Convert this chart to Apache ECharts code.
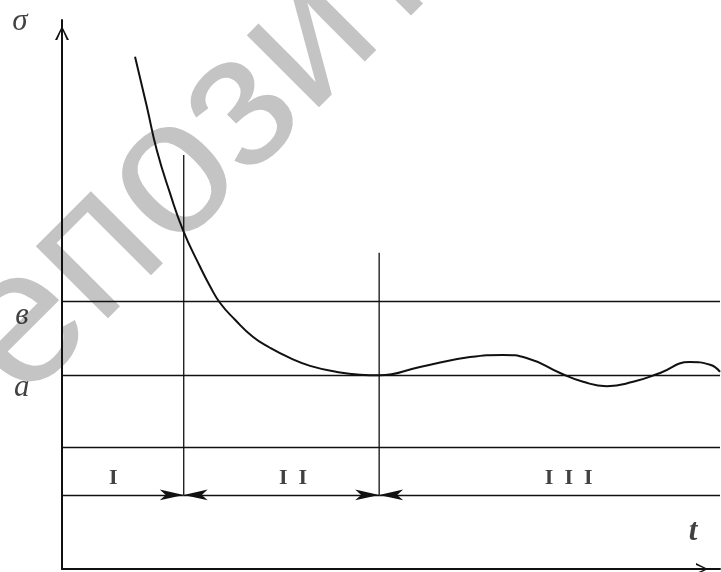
<!DOCTYPE html>
<html>
<head>
<meta charset="utf-8">
<script src="https://cdn.jsdelivr.net/npm/echarts@6/dist/echarts.min.js"></script>
<style>html,body{margin:0;padding:0;background:#fff}#c{width:721px;height:572px}</style>
</head>
<body>
<div id="c"></div>
<script>
// ---- data (t, sigma) in arbitrary units ----
var curveT     = [1.11, 1.29, 1.44, 1.64, 1.84, 2.10, 2.25, 2.40, 2.63, 2.90, 3.16, 3.47, 3.77, 4.18, 4.53, 4.82, 5.44, 6.20, 6.70, 7.07, 7.57, 7.92, 8.28, 8.68, 9.09, 9.54, 9.85, 10.0];
var curveSigma = [9.33, 8.42, 7.63, 6.85, 6.17, 5.50, 5.15, 4.85, 4.54, 4.23, 4.03, 3.84, 3.70, 3.59, 3.54, 3.53, 3.68, 3.86, 3.90, 3.84, 3.57, 3.41, 3.33, 3.41, 3.57, 3.77, 3.72, 3.59];
var levelB = 4.88;      // в
var levelA = 3.53;      // a
var levelLow = 2.22;    // lower boundary of stage band
var levelArrow = 1.35;  // dimension line
var stageBounds = [1.85, 4.82];   // t of stage boundaries
var stageTops = [7.54, 5.76];     // top of boundary lines
var stageNames = ['I', 'I  I', 'I  I  I'];
var stageLabelT = [0.78, 3.51, 7.70];
var stageLabelSigma = 1.66;
var axisNames = ['σ', 'в', 'a', 't'];
var axisNameT = [-0.64, -0.61, -0.61, 9.59];
var axisNameSigma = [9.96, 4.61, 3.30, 0.67];

var chart = echarts.init(document.getElementById('c'), null, {renderer: 'canvas'});
var ink = '#111';
var chevron = 'path://M50,0 L100,100 L84,100 L50,22 L16,100 L0,100 Z';

var curveData = curveT.map(function (t, i) { return [t, curveSigma[i]]; });

var boundarySeries = stageBounds.map(function (t, i) {
  return {
    type: 'line', data: [[t, levelArrow], [t, stageTops[i]]],
    symbol: 'none', lineStyle: {color: ink, width: 1.3}, silent: true, z: 3
  };
});

var option = {
  animation: false,
  backgroundColor: '#fff',
  grid: {left: 62, right: 1, top: 20, bottom: 3},
  xAxis: {
    type: 'value', min: 0, max: 10,
    axisLine: {show: true, onZero: false, lineStyle: {color: ink, width: 2},
      symbol: ['none', chevron], symbolSize: [12, 22], symbolOffset: [0, -18]},
    axisTick: {show: false}, axisLabel: {show: false}, splitLine: {show: false}
  },
  yAxis: {
    type: 'value', min: 0, max: 10,
    axisLine: {show: true, onZero: false, lineStyle: {color: ink, width: 2},
      symbol: ['none', chevron], symbolSize: [14, 26], symbolOffset: [0, -13]},
    axisTick: {show: false}, axisLabel: {show: false}, splitLine: {show: false}
  },
  graphic: [{
    type: 'text', x: -100, y: 451, rotation: Math.PI / 4, silent: true, z: 0,
    style: {text: 'Репозиторий', font: '193px "Liberation Sans"', fill: '#c4c4c4',
      textAlign: 'left', textVerticalAlign: 'middle'}
  }],
  series: [
    {
      type: 'line', data: [], silent: true, z: 3,
      markLine: {
        silent: true, symbol: 'none', animation: false,
        lineStyle: {color: ink, width: 1.4, type: 'solid'}, label: {show: false},
        data: [{yAxis: levelB}, {yAxis: levelA}, {yAxis: levelLow}]
      }
    },
    {
      type: 'line', data: [], silent: true, z: 3,
      markLine: {
        silent: true, animation: false, symbolSize: [8, 24],
        lineStyle: {color: ink, width: 1.4, type: 'solid'}, label: {show: false},
        data: [
          [{coord: [0, levelArrow], symbol: 'none'}, {coord: [stageBounds[0], levelArrow], symbol: 'arrow'}],
          [{coord: [stageBounds[0], levelArrow], symbol: 'arrow'}, {coord: [stageBounds[1], levelArrow], symbol: 'arrow'}],
          [{coord: [stageBounds[1], levelArrow], symbol: 'arrow'}, {coord: [10, levelArrow], symbol: 'none'}]
        ]
      }
    }
  ].concat(boundarySeries).concat([
    {
      type: 'line', data: curveData, smooth: 0.5, symbol: 'none', silent: true, z: 4,
      lineStyle: {color: ink, width: 2}
    },
    {
      type: 'scatter', symbolSize: 0, silent: true, z: 5, clip: false,
      data: stageNames.map(function (n, i) { return {value: [stageLabelT[i], stageLabelSigma], name: n}; }),
      label: {show: true, position: 'inside', formatter: '{b}', color: ink,
        fontFamily: '"Liberation Serif"', fontWeight: 'bold', fontSize: 22}
    },
    {
      type: 'scatter', symbolSize: 0, silent: true, z: 5, clip: false,
      data: axisNames.map(function (n, i) { return {value: [axisNameT[i], axisNameSigma[i]], name: n}; }),
      label: {show: true, position: 'inside', color: ink,
        formatter: function (p) { return p.name === 't' ? '{t|t}' : '{s|' + p.name + '}'; },
        rich: {
          s: {fontFamily: '"Liberation Serif"', fontStyle: 'italic', fontSize: 31, color: ink},
          t: {fontFamily: '"Liberation Serif"', fontStyle: 'italic', fontWeight: 'bold', fontSize: 31, color: ink}
        }}
    }
  ])
};
chart.setOption(option);
</script>
</body>
</html>
